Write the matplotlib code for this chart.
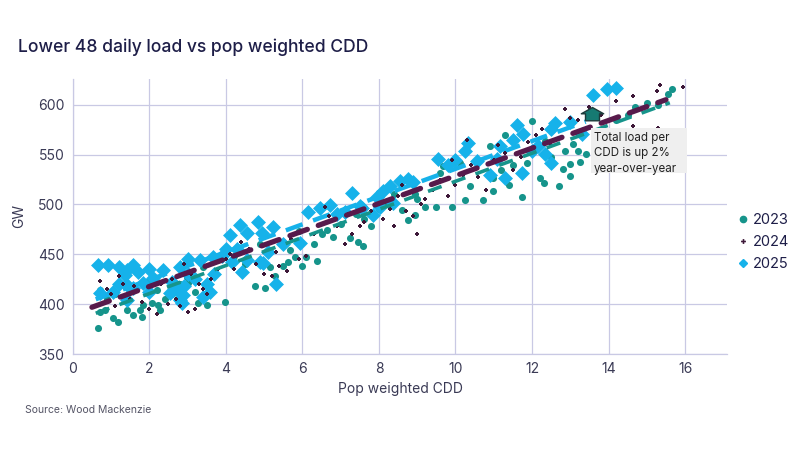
import matplotlib.pyplot as plt
from matplotlib.path import Path
from matplotlib.lines import Line2D
from matplotlib.patches import Rectangle

# Datos (CDD, GW)
x_2023 = [0.65, 0.7, 0.7, 0.84, 0.9, 1.05, 1.18, 1.1, 1.41, 1.57, 1.75, 1.8, 1.83, 1.93, 2.07, 2.2, 2.22, 2.27,
          2.4, 2.6, 2.8, 2.98, 3.0, 3.19, 3.27, 3.5, 3.66, 3.97, 3.4, 2.85,
          4.0, 4.2, 4.4, 4.5, 4.76, 5.02, 5.15, 5.28, 5.49, 5.49, 5.62, 5.67, 5.8, 6.0, 6.1, 6.38, 6.5, 4.9,
          5.9, 6.3, 6.64, 6.8, 7.0, 7.24, 7.45, 7.58, 7.8, 7.4, 7.6, 8.0,
          8.2, 8.4, 8.6, 8.76, 8.94, 8.94, 9.0, 9.2, 9.5, 9.6, 9.67, 9.9, 10.12, 10.25, 10.38, 10.72, 10.9,
          10.98, 10.98, 11.2, 11.4, 11.5, 11.74, 11.87, 12.0, 12.2, 12.3, 12.34, 12.7, 12.8, 12.86, 13.0,
          13.0, 13.07, 13.2, 13.26, 13.4, 12.5, 11.3,
          14.2, 14.5, 14.7, 15.0, 15.3, 15.55, 15.66]
y_2023 = [376, 414, 392, 394, 405, 386, 382, 410, 394, 389, 394, 387, 399, 422, 401, 414, 399, 394,
          405, 410, 420, 427, 421, 412, 401, 399, 431, 402, 437, 432,
          455, 448, 432, 440, 418, 416, 437, 428, 438, 462, 442, 454, 447, 438, 447, 443, 470, 460,
          473, 460, 474, 467, 480, 466, 462, 458, 478, 490, 485, 495,
          500, 510, 494, 484, 489, 511, 505, 497, 497, 532, 539, 497, 542, 504, 519, 504, 559,
          514, 527, 535, 520, 540, 507, 542, 584, 527, 522, 564, 519, 536, 554, 541,
          529, 561, 554, 543, 551, 548, 570,
          585, 590, 598, 602, 600, 611, 616]

x_2024 = [0.7, 0.9, 1.0, 1.3, 1.1, 1.5, 1.8, 2.0, 2.2, 1.6, 2.3, 2.5, 2.7, 2.8, 3.0, 3.2, 3.4, 3.5, 3.3,
          3.6, 3.8, 2.6, 3.1, 4.0, 4.2, 4.4, 4.6, 4.8, 5.0, 5.2, 5.4, 5.6, 5.9, 6.1, 5.7, 6.3, 6.5, 6.7,
          6.9, 7.1, 7.3, 7.5, 7.6, 7.8, 8.0, 8.1, 8.3, 8.5, 8.7, 8.9, 9.1, 9.2, 9.4, 9.6, 9.8, 10.0, 10.2,
          10.4, 10.6, 10.8, 11.0, 11.1, 11.3, 11.5, 11.7, 11.9, 12.1, 12.26, 12.5, 12.86, 13.0, 13.2,
          13.5, 13.8, 14.2, 14.64, 14.64, 15.27, 15.3, 15.35, 15.95, 10.3, 9.9, 8.6, 7.2, 6.6, 5.3,
          4.1, 2.9, 1.2, 9.0, 8.4]
y_2024 = [423, 415, 410, 420, 398, 405, 402, 395, 390, 418, 420, 400, 405, 398, 392, 395, 415, 410, 420,
          425, 435, 425, 430, 445, 435, 462, 455, 440, 430, 428, 438, 433, 445, 448, 465, 470, 480, 488,
          478, 460, 470, 478, 482, 493, 500, 485, 495, 508, 493, 488, 500, 505, 515, 525, 508, 520, 530,
          540, 528, 515, 545, 560, 552, 535, 548, 563, 570, 576, 560, 596, 587, 585,
          598, 590, 604, 609, 579, 614, 577, 620, 618, 565, 545, 520, 490, 497, 452,
          450, 440, 428, 470, 478]

x_2025 = [0.65, 0.92, 1.2, 1.41, 1.57, 1.36, 1.7, 2.0, 2.35, 2.1, 2.8, 3.0, 3.32, 3.66, 3.9, 0.7, 1.05,
          1.41, 1.57, 1.83, 1.41, 2.54, 2.72, 2.88, 2.8, 2.85, 3.58, 3.0, 3.2, 2.9, 3.4, 3.5, 3.7, 2.6,
          2.0, 1.2,
          4.1, 4.37, 4.55, 4.84, 4.94, 5.23, 4.16, 4.55, 4.89, 4.42, 4.97, 5.3, 5.5, 5.93, 4.3, 5.1, 4.0,
          6.14, 6.45, 6.72, 7.11, 7.3, 7.55, 7.84, 7.95, 8.03, 8.1, 8.29, 8.37, 8.55, 8.76, 8.9, 7.5, 6.9,
          9.54, 9.8, 10.0, 10.25, 10.33, 10.56, 10.9, 11.08, 11.16, 11.3, 11.5, 11.74, 11.77, 12.0,
          12.16, 12.34, 12.5, 12.5, 12.6, 13.0, 13.3, 13.6, 13.96, 14.2, 11.6]
y_2025 = [439, 439, 437, 434, 439, 429, 432, 435, 434, 426, 437, 445, 444, 447, 448, 411, 412,
          419, 416, 421, 404, 411, 414, 409, 404, 401, 412, 430, 425, 418, 407, 420, 430, 422,
          412, 420,
          469, 479, 471, 482, 471, 477, 442, 444, 442, 432, 441, 420, 460, 461, 455, 452, 455,
          492, 496, 499, 492, 512, 496, 489, 507, 497, 514, 519, 501, 524, 526, 523, 498, 490,
          546, 540, 545, 554, 562, 544, 530, 546, 559, 527, 565, 532, 571, 554,
          559, 551, 542, 576, 582, 583, 571, 610, 616, 617, 580]

# Líneas de tendencia (extremos)
trend_2023_x = [0.6, 15.6]
trend_2023_y = [391, 602]
trend_2024_x = [0.5, 15.5]
trend_2024_y = [397, 605]
trend_2025_x = [0.6, 13.4]
trend_2025_y = [405, 583]

# Marcador de la anotación
nota_x = [13.57]
nota_y = [591]
nota_texto = 'Total load per\nCDD is up 2%\nyear-over-year'

c23 = '#16948b'
c24 = '#3d1838'
c25 = '#16b2ea'
grid_c = '#c9c9e4'
texto_c = '#1e1e48'

plt.rcParams['font.family'] = ['Inter', 'DejaVu Sans']

fig = plt.figure(figsize=(8, 4.5), dpi=100)
ax = fig.add_axes([0.091, 0.213, 0.818, 0.612])

ax.scatter(x_2023, y_2023, s=26, marker='o', color=c23, linewidths=0, zorder=3)
ax.plot(trend_2025_x, trend_2025_y, color=c25, lw=3.2, dashes=(4, 2.5), zorder=3.5)
ax.scatter(x_2025, y_2025, s=58, marker='D', color=c25, linewidths=0, zorder=4)
ax.scatter(x_2024, y_2024, s=12, marker='P', color=c24, linewidths=0, zorder=5)

ax.plot(trend_2023_x, trend_2023_y, color=c23, lw=2.6, dashes=(4, 3), zorder=6)
ax.plot(trend_2024_x, trend_2024_y, color='#571a4b', lw=3.8, dashes=(3.5, 2.2),
        dash_capstyle='round', zorder=7)

# marcador tipo casa
casa = Path([(-1, -0.9), (1, -0.9), (1, 0.1), (1.6, 0.1), (0, 1), (-1.6, 0.1), (-1, 0.1), (-1, -0.9)],
            [Path.MOVETO] + [Path.LINETO] * 6 + [Path.CLOSEPOLY])
ax.scatter(nota_x, nota_y, s=260, marker=casa, color='#167a72', edgecolors='#1d3a3a',
           linewidths=1.0, zorder=8)
ax.add_patch(Rectangle((13.55, 532), 2.5, 45, facecolor='#efefef', edgecolor='none', zorder=8.5))
ax.text(13.62, 573, nota_texto, fontsize=8.3, color='#222222', va='top', ha='left',
        linespacing=1.4, zorder=9)

ax.set_xlim(0, 17.1)
ax.set_ylim(350, 626)
ax.set_xticks(range(0, 17, 2))
ax.set_yticks(range(350, 601, 50))
ax.grid(True, color=grid_c, lw=0.9)
ax.set_axisbelow(True)
for lado in ['top', 'right']:
    ax.spines[lado].set_visible(False)
for lado in ['left', 'bottom']:
    ax.spines[lado].set_color(grid_c)
    ax.spines[lado].set_linewidth(0.9)
ax.tick_params(length=0, labelsize=10, labelcolor='#3a3a55', pad=6)
ax.set_xlabel('Pop weighted CDD', fontsize=10, color='#3a3a55', labelpad=4)
ax.set_ylabel('GW', fontsize=10, color='#3a3a55', labelpad=8)

fig.text(0.022, 0.895, 'Lower 48 daily load vs pop weighted CDD', fontsize=12.6,
         fontweight='medium', color=texto_c, va='center', ha='left')
fig.text(0.031, 0.088, 'Source: Wood Mackenzie', fontsize=7.5, color='#555566',
         va='center', ha='left')

handles = [
    Line2D([], [], ls='none', marker='o', ms=4.5, color=c23),
    Line2D([], [], ls='none', marker='P', ms=3.5, color=c24, markeredgewidth=0),
    Line2D([], [], ls='none', marker='D', ms=4.5, color=c25),
]
fig.legend(handles, ['2023', '2024', '2025'], loc='center left', bbox_to_anchor=(0.905, 0.462),
           frameon=False, fontsize=10.5, handlelength=0.8, handletextpad=0.3,
           labelspacing=0.55, labelcolor=texto_c)

fig.savefig('out.png', dpi=100)
